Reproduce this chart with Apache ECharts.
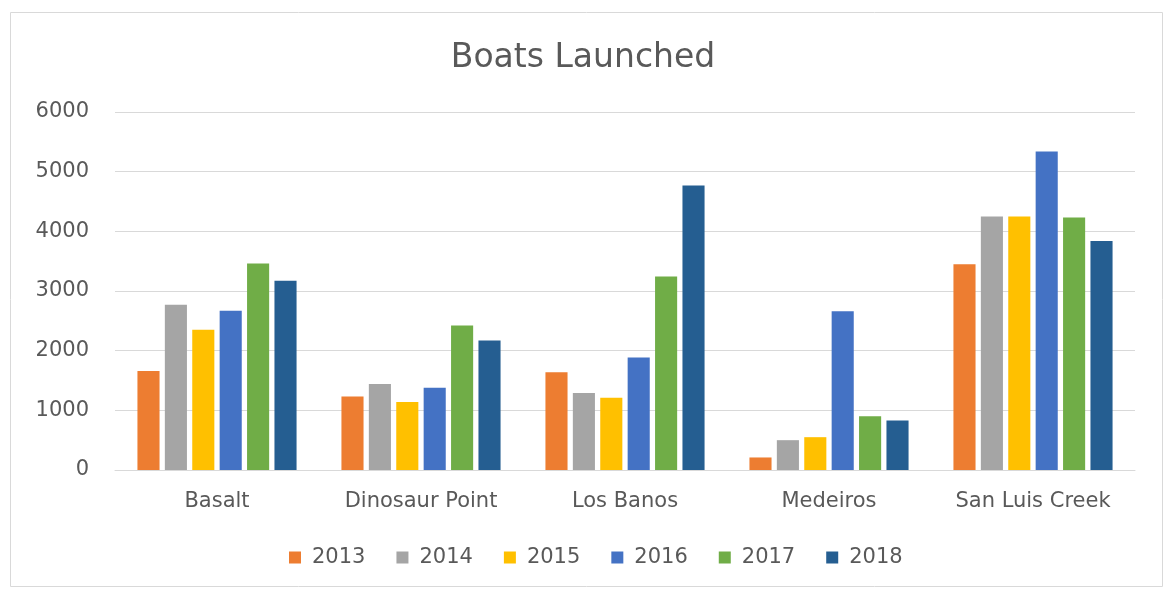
<!DOCTYPE html>
<html>
<head>
<meta charset="utf-8">
<script src="https://cdn.jsdelivr.net/npm/echarts@6/dist/echarts.min.js"></script>
<style>html,body{margin:0;padding:0;background:#fff;}#c{width:1166px;height:589px;}</style>
</head>
<body>
<div id="c"></div>
<script>
const categories = ['Basalt', 'Dinosaur Point', 'Los Banos', 'Medeiros', 'San Luis Creek'];
const years = ['2013', '2014', '2015', '2016', '2017', '2018'];
const v2013 = [1660, 1230, 1640, 210, 3450];
const v2014 = [2770, 1440, 1290, 500, 4250];
const v2015 = [2350, 1140, 1210, 550, 4250];
const v2016 = [2670, 1380, 1885, 2660, 5340];
const v2017 = [3460, 2420, 3245, 900, 4230];
const v2018 = [3170, 2170, 4770, 830, 3840];
const yTicks = [0, 1000, 2000, 3000, 4000, 5000, 6000];
const colors = ['#ED7D31', '#A5A5A5', '#FFC000', '#4472C4', '#70AD47', '#255E91'];

const values = [v2013, v2014, v2015, v2016, v2017, v2018];
const font = '"DejaVu Sans", "Open Sans", sans-serif';
const chart = echarts.init(document.getElementById('c'), null, {renderer: 'canvas'});
chart.setOption({
  animation: false,
  color: colors,
  graphic: [{
    type: 'rect', left: 8, top: 10,
    shape: {width: 1152, height: 574},
    style: {fill: 'none', stroke: '#D9D9D9', lineWidth: 1}
  }],
  title: {
    text: 'Boats Launched', left: 'center', top: 37,
    textStyle: {fontFamily: font, fontSize: 33, fontWeight: 'normal', color: '#595959'}
  },
  legend: {
    data: years, bottom: 16, left: 284,
    itemWidth: 12, itemHeight: 12, itemGap: 31, icon: 'rect',
    textStyle: {fontFamily: font, fontSize: 21, color: '#595959', padding: [0, 0, 0, 6]}
  },
  grid: {left: 115, right: 31, top: 112, bottom: 119, containLabel: false},
  xAxis: {
    type: 'category', data: categories,
    axisLine: {lineStyle: {color: '#D9D9D9'}},
    axisTick: {show: false},
    axisLabel: {fontFamily: font, fontSize: 21, color: '#595959', margin: 21}
  },
  yAxis: {
    type: 'value', min: yTicks[0], max: yTicks[yTicks.length - 1], interval: 1000,
    axisLine: {show: false}, axisTick: {show: false},
    splitLine: {lineStyle: {color: '#D9D9D9'}},
    axisLabel: {fontFamily: font, fontSize: 21, color: '#595959', margin: 26,
      formatter: v => String(v)}
  },
  series: years.map((y, i) => ({
    name: y, type: 'bar', data: values[i],
    barGap: '24%', barCategoryGap: '22%'
  }))
});
</script>
</body>
</html>
